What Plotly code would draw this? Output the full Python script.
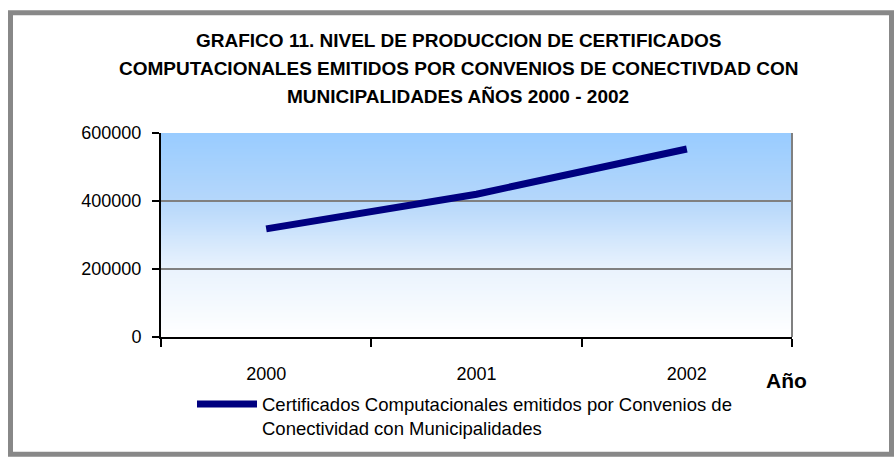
import base64
import struct
import zlib

import plotly.graph_objects as go

years = ["2000", "2001", "2002"]
certificados = [318000, 420000, 553000]
y_ticks = [0, 200000, 400000, 600000]

title_lines = [
    "GRAFICO 11. NIVEL DE PRODUCCION DE CERTIFICADOS",
    "COMPUTACIONALES EMITIDOS POR CONVENIOS DE CONECTIVDAD CON",
    "MUNICIPALIDADES AÑOS 2000 - 2002",
]
series_name = "Certificados Computacionales emitidos por Convenios de<br>Conectividad con Municipalidades"
x_title = "Año"

FONT = "Liberation Sans, Arial, sans-serif"

# plot area geometry (px)
L, R, T, B = 161, 792, 133, 339
W, H = 896, 460
PW, PH = R - L, B - T


def gradient_png(stops, n=206):
    """vertical gradient image, top row first"""
    rows = b""
    for i in range(n):
        f = 1 - i / (n - 1)  # 1 at top, 0 at bottom
        for j in range(len(stops) - 1):
            p0, c0 = stops[j]
            p1, c1 = stops[j + 1]
            if p0 <= f <= p1:
                t = (f - p0) / (p1 - p0) if p1 > p0 else 0
                c = [round(c0[k] + (c1[k] - c0[k]) * t) for k in range(3)]
                break
        rows += b"\x00" + bytes(c)

    def chunk(tag, data):
        return struct.pack(">I", len(data)) + tag + data + struct.pack(">I", zlib.crc32(tag + data) & 0xffffffff)

    png = b"\x89PNG\r\n\x1a\n"
    png += chunk(b"IHDR", struct.pack(">IIBBBBB", 1, n, 8, 2, 0, 0, 0))
    png += chunk(b"IDAT", zlib.compress(rows))
    png += chunk(b"IEND", b"")
    return "data:image/png;base64," + base64.b64encode(png).decode()


grad = gradient_png([
    (0.0, (255, 255, 255)),
    (0.33, (234, 243, 253)),
    (0.67, (181, 215, 251)),
    (1.0, (153, 204, 255)),
])

xs = list(range(len(years)))

fig = go.Figure()
fig.add_trace(go.Scatter(
    x=xs, y=certificados, mode="lines", name=series_name,
    line=dict(color="#000080", width=7),
))

fig.update_layout(
    width=W, height=H,
    margin=dict(l=L, r=W - R, t=T, b=H - B, pad=0),
    paper_bgcolor="white", plot_bgcolor="rgba(0,0,0,0)",
    font=dict(family=FONT, size=18, color="black"),
    showlegend=True,
    legend=dict(x=(192 - L) / PW, y=-(388 - B) / PH, xanchor="left", yanchor="top",
                bgcolor="rgba(0,0,0,0)", font=dict(size=18.5, family=FONT, color="black"),
                valign="top", itemwidth=60, borderwidth=0),
    xaxis=dict(range=[-0.5, len(years) - 0.5], tickvals=xs, ticktext=years,
               ticks="", showline=True, linecolor="black", linewidth=2,
               showgrid=False, zeroline=False, ticklabelstandoff=19,
               tickfont=dict(size=18, family=FONT),
               minor=dict(tickvals=[i - 0.5 for i in range(len(years) + 1)],
                          ticks="outside", ticklen=8, tickwidth=2, tickcolor="black",
                          showgrid=False)),
    yaxis=dict(range=[0, y_ticks[-1]], tickvals=y_ticks, tickformat="d",
               ticks="outside", ticklen=7, tickwidth=2, tickcolor="black",
               showline=True, linecolor="black", linewidth=2,
               showgrid=True, gridcolor="#808080", gridwidth=2,
               zeroline=False, ticklabelstandoff=7,
               tickfont=dict(size=18, family=FONT)),
    images=[dict(source=grad, xref="paper", yref="paper", x=0, y=1,
                 sizex=1, sizey=1, sizing="stretch", layer="below",
                 xanchor="left", yanchor="top")],
)

# right border of plot area
fig.add_shape(type="line", xref="paper", yref="paper", x0=1, x1=1, y0=0, y1=1,
              line=dict(color="#808080", width=2))
# outer frame
fig.add_shape(type="rect", xref="paper", yref="paper",
              x0=(10.5 - L) / PW, x1=(891.5 - L) / PW,
              y0=-(457.5 - B) / PH, y1=(B - 11.5) / PH,
              line=dict(color="#888888", width=5))

title_y = [40, 68, 96]
for t, yy in zip(title_lines, title_y):
    fig.add_annotation(text="<b>" + t + "</b>", xref="paper", yref="paper",
                       x=(458 - L) / PW, y=(B - yy) / PH, showarrow=False,
                       xanchor="center", yanchor="middle",
                       font=dict(size=19, family=FONT))

fig.add_annotation(text="<b>" + x_title + "</b>", xref="paper", yref="paper",
                   x=(786 - L) / PW, y=(B - 383) / PH, showarrow=False,
                   xanchor="center", yanchor="middle", font=dict(size=21, family=FONT))

fig.write_html("out.html", config={"displayModeBar": False},
               post_script="document.body.style.margin='0';")
